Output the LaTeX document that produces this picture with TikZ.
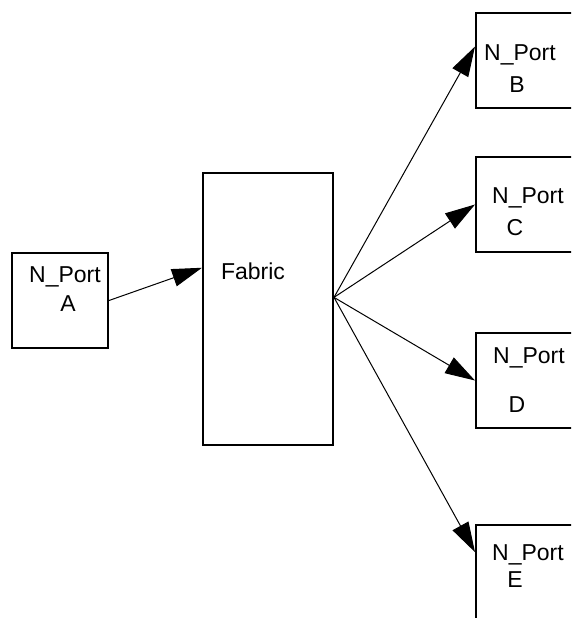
\documentclass[tikz,border=0pt]{standalone}
\usepackage{fontspec}
\setmainfont{Liberation Sans}
\usetikzlibrary{arrows.meta}
\begin{document}
\begin{tikzpicture}[x=1pt,y=-1pt,
  port/.style={draw,line width=2pt,minimum width=110pt,minimum height=95pt,inner sep=0pt},
  txt/.style={inner sep=0pt,font=\fontsize{23}{27}\selectfont},
  link/.style={line width=1pt,-{Triangle[length=30pt,width=18pt]}}]
\useasboundingbox (0,0) rectangle (571,618);
\clip (0,0) rectangle (571,618);
% boxes
\node[port,minimum width=96pt] (A) at (60,300.5) {};
\node[port,minimum width=130pt,minimum height=272pt] (Fabric) at (268,309) {};
\node[port] (B) at (531,60.5) {};
\node[port] (C) at (531,204.5) {};
\node[port] (D) at (531,380.5) {};
\node[port] (E) at (531,572.5) {};
% texts
\node[txt] (Aname) at (65,277) {N\_Port};
\node[txt] (Aid) at (68,304) {A};
\node[txt] (Fname) at (253,271) {Fabric};
\node[txt] (Bname) at (520,55) {N\_Port};
\node[txt] (Bid) at (517,85) {B};
\node[txt] (Cname) at (528,198) {N\_Port};
\node[txt] (Cid) at (515,228) {C};
\node[txt] (Dname) at (529,358) {N\_Port};
\node[txt] (Did) at (517,405) {D};
\node[txt] (Ename) at (528,555) {N\_Port};
\node[txt] (Eid) at (515,580) {E};
% links
\coordinate (fan) at (Fabric.10);
\draw[link] (A.east) -- (Fabric.148);
\foreach \t in {B.166,C.west,D.west,E.160}
  \draw[link] (fan) -- (\t);
\end{tikzpicture}
\end{document}
